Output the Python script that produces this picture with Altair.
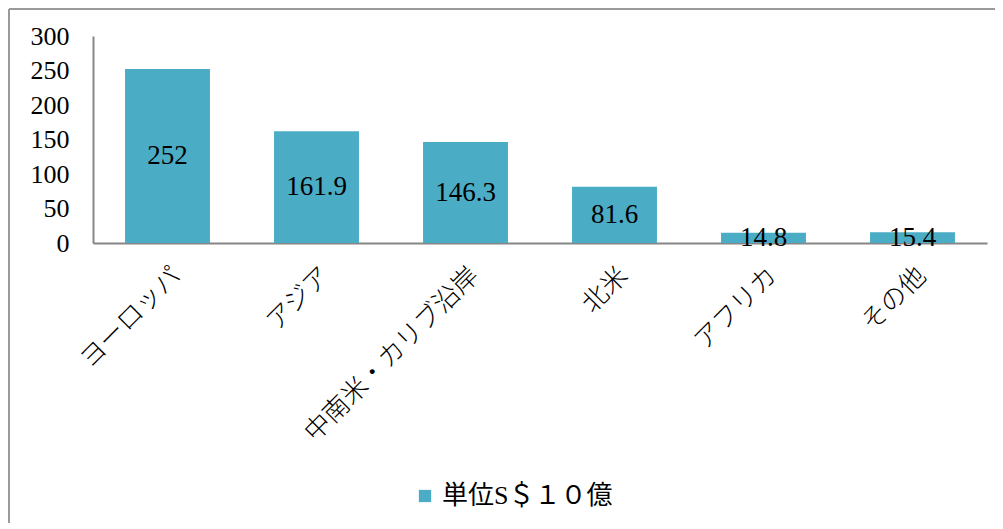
import altair as alt
import pandas as pd

categories = ["ヨーロッパ", "アジア", "中南米・カリブ沿岸", "北米", "アフリカ", "その他"]
values = [252, 161.9, 146.3, 81.6, 14.8, 15.4]
labels = ["252", "161.9", "146.3", "81.6", "14.8", "15.4"]
series = "単位S＄１０億"
y_ticks = [0, 50, 100, 150, 200, 250, 300]

df = pd.DataFrame({"region": categories, "value": values, "label": labels, "series": [series] * len(categories)})
df["half"] = df["value"] / 2

BAR = "#4BACC6"
AXIS = "#868686"

x_axis = alt.Axis(labelAngle=-45, labelFont="Noto Sans CJK JP", labelFontSize=26,
                  labelFontWeight=300, labelColor="#000", labelPadding=19,
                  ticks=False, domainColor=AXIS, domainWidth=2, labelLimit=500,
                  labelOverlap=False)
x_scale = alt.Scale(paddingInner=0.43, paddingOuter=0.215)
y_axis = alt.Axis(values=y_ticks, labelFont="Liberation Serif", labelFontSize=26,
                  labelColor="#000", labelPadding=24, ticks=False, grid=False,
                  domainColor=AXIS, domainWidth=2, labelOverlap=False)
y_scale = alt.Scale(domain=[0, 300])

bars = alt.Chart(df).mark_bar(color=BAR).encode(
    x=alt.X("region:N", sort=categories, title=None, scale=x_scale, axis=x_axis),
    y=alt.Y("value:Q", title=None, scale=y_scale, axis=y_axis),
    color=alt.Color("series:N", scale=alt.Scale(range=[BAR]),
                    legend=alt.Legend(title=None, orient="none", legendX=319, legendY=447,
                                      symbolType="square", symbolSize=150, labelLimit=500,
                                      labelFont="Liberation Serif, Noto Sans CJK JP",
                                      labelFontSize=26, labelColor="#000", symbolStrokeWidth=0)),
)

text = alt.Chart(df).mark_text(font="Liberation Serif", fontSize=27, color="#000",
                               baseline="middle", align="center").encode(
    x=alt.X("region:N", sort=categories, title=None, scale=x_scale, axis=x_axis),
    y=alt.Y("half:Q", title=None, scale=y_scale, axis=y_axis),
    text="label:N",
)

frame_df = pd.DataFrame({"k": [0]})
top_line = alt.Chart(frame_df).mark_rule(color="#9a9a9a", strokeWidth=2, clip=False).encode(
    x=alt.value(-84), x2=alt.value(902), y=alt.value(-27))
left_line = alt.Chart(frame_df).mark_rule(color="#9a9a9a", strokeWidth=2, clip=False).encode(
    x=alt.value(-84), y=alt.value(-27), y2=alt.value(487))

chart = alt.layer(bars, text, top_line, left_line).properties(
    width=894, height=207,
    autosize=alt.AutoSizeParams(type="none"),
    padding={"left": 85, "top": 28, "right": 8, "bottom": 280},
).configure(background="white").configure_view(strokeWidth=0, stroke="transparent")

chart.save("out.html", embed_options={"renderer": "svg", "actions": False})
